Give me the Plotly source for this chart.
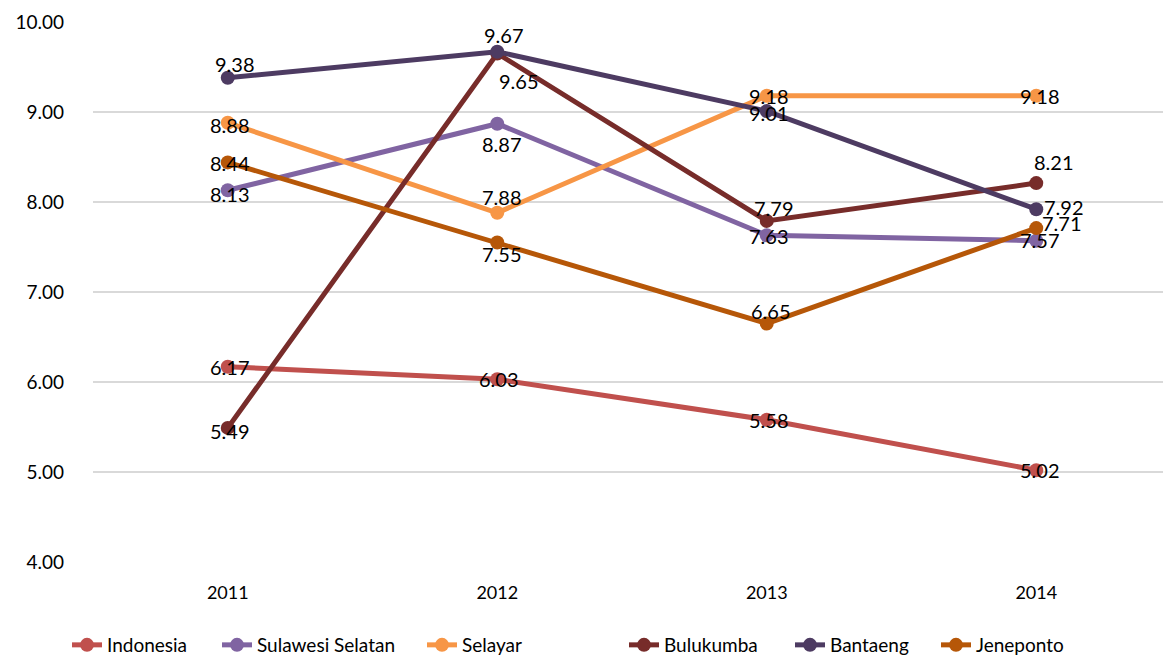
import plotly.graph_objects as go

years = ["2011", "2012", "2013", "2014"]
series_names = ["Indonesia", "Sulawesi Selatan", "Selayar", "Bulukumba", "Bantaeng", "Jeneponto"]
indonesia = [6.17, 6.03, 5.58, 5.02]
sulawesi_selatan = [8.13, 8.87, 7.63, 7.57]
selayar = [8.88, 7.88, 9.18, 9.18]
bulukumba = [5.49, 9.65, 7.79, 8.21]
bantaeng = [9.38, 9.67, 9.01, 7.92]
jeneponto = [8.44, 7.55, 6.65, 7.71]

colors = ["#C0504D", "#8064A2", "#F79646", "#772C2A", "#4D3B62", "#B65708"]
# label offsets in pixels (dx right, dy down) relative to each point
label_offsets = [
    [(2, 0), (2, 0), (2, 0), (4, 0)],
    [(2, 4), (5, 20), (2, 1), (4, -1)],
    [(2, 2), (5, -16), (2, 0), (4, 0)],
    [(2, 3), (22, 27), (7, -13), (18, -21)],
    [(7, -14), (7, -17), (2, 2), (28, -2)],
    [(2, 1), (5, 11), (4, -13), (26, -5)],
]
# legend text start positions (page px)
legend_text_x = [107, 257, 462, 664, 830, 976]
values = [indonesia, sulawesi_selatan, selayar, bulukumba, bantaeng, jeneponto]

FONT = "Lato, Open Sans, sans-serif"
W, H = 1163, 652  # page body adds 8px offset; figure sized to compensate

fig = go.Figure()
annotations = []
legends = {}
for i, (name, vals, col, offs) in enumerate(zip(series_names, values, colors, label_offsets)):
    lg = "legend" if i == 0 else f"legend{i+1}"
    fig.add_trace(go.Scatter(
        x=years, y=vals, name=name, mode="lines+markers",
        line=dict(color=col, width=5),
        marker=dict(color=col, size=14),
        legend=lg,
    ))
    for j, (v, (dx, dy)) in enumerate(zip(vals, offs)):
        annotations.append(dict(
            x=j, y=v, xref="x", yref="y", text=f"{v:.2f}", showarrow=False,
            xshift=dx, yshift=-dy, xanchor="center", yanchor="middle",
            font=dict(size=20, color="#000000", family=FONT),
        ))
    legends[lg] = dict(
        orientation="h", xref="container", yref="container",
        x=(legend_text_x[i] - 8 - 40) / W, xanchor="left",
        y=(H - 637) / H, yanchor="middle",
        font=dict(size=19, family=FONT, color="#000000"),
        bgcolor="rgba(0,0,0,0)",
    )

fig.update_layout(
    width=W, height=H,
    margin=dict(l=85, r=0, t=14, b=98, autoexpand=False),
    paper_bgcolor="white", plot_bgcolor="white",
    font=dict(family=FONT, size=18, color="#000000"),
    showlegend=True,
    annotations=annotations,
    xaxis=dict(type="category", categoryorder="array", categoryarray=years,
               range=[-0.5, 3.5], showgrid=False, showline=False,
               ticks="", tickfont=dict(size=18), zeroline=False, ticklabelstandoff=18),
    yaxis=dict(range=[4, 10], dtick=1, tickformat=".2f", showgrid=True,
               gridcolor="#D9D9D9", gridwidth=1.5, zeroline=False, showline=False,
               tickfont=dict(size=19), ticklabelstandoff=28),
    **legends,
)
fig.write_html("out.html")
